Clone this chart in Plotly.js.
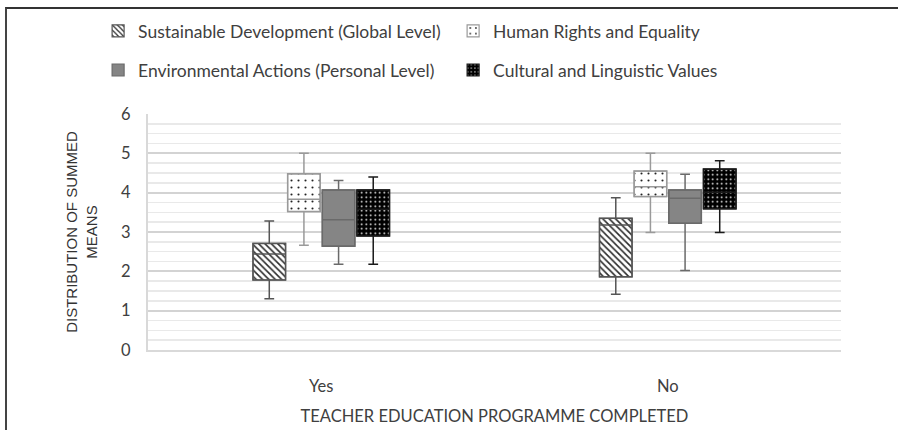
<!DOCTYPE html>
<html>
<head>
<meta charset="utf-8">
<script src="https://cdn.plot.ly/plotly-3.0.1.min.js"></script>
<style>
  html, body { margin: 0; padding: 0; background: #ffffff; }
  #frame { position: absolute; left: 5px; top: 7px; width: 893px; height: 423px;
           border-top: 2px solid #333; border-left: 2px solid #444; box-sizing: border-box; }
  #chart { position: absolute; left: 0; top: 0; width: 898px; height: 430px; }
</style>
</head>
<body>
<div id="chart"></div>
<div id="frame"></div>
<script>
// ---- Data ----
const categories = ['Yes', 'No'];
const seriesNames = [
  'Sustainable Development (Global Level)',
  'Human Rights and Equality',
  'Environmental Actions (Personal Level)',
  'Cultural and Linguistic Values'
];
// per series: [Yes, No]
const lowerWhisker = [[1.30, 1.42], [2.66, 2.99], [2.18, 2.02], [2.18, 2.99]];
const q1Values     = [[1.78, 1.86], [3.52, 3.90], [2.64, 3.22], [2.90, 3.59]];
const medianValues = [[2.44, 3.18], [3.83, 4.15], [3.31, 3.86], [3.58, 4.01]];
const q3Values     = [[2.71, 3.35], [4.48, 4.55], [4.07, 4.07], [4.07, 4.60]];
const upperWhisker = [[3.28, 3.87], [5.00, 5.00], [4.31, 4.47], [4.40, 4.81]];
const yTicks = [0, 1, 2, 3, 4, 5, 6];

// ---- Styles ----
const styles = [
  { bg: '#ffffff', pattern: { shape: '\\', fgcolor: '#2a2a2a', bgcolor: '#ffffff', size: 4.5, solidity: 0.35 }, line: '#555555' },
  { bg: '#ffffff', pattern: { shape: '.', fgcolor: '#222222', bgcolor: '#ffffff', size: 7, solidity: 0.07 }, line: '#9a9a9a' },
  { bg: '#858585', pattern: null, line: '#6a6a6a' },
  { bg: '#000000', pattern: { shape: '.', fgcolor: '#ffffff', bgcolor: '#000000', size: 4.5, solidity: 0.12 }, line: '#1a1a1a' }
];
const legendFor = ['legend', 'legend', 'legend2', 'legend2'];

const traces = [];
// patterned box bodies (bars from Q1 to Q3) -> also legend entries
seriesNames.forEach((name, i) => {
  const st = styles[i];
  const marker = { color: st.bg, line: { color: st.line, width: 1.2 } };
  if (st.pattern) marker.pattern = st.pattern;
  traces.push({
    type: 'bar', name: name, x: categories,
    base: q1Values[i],
    y: q3Values[i].map((v, k) => v - q1Values[i][k]),
    marker: marker, offsetgroup: String(i), legend: legendFor[i],
    hoverinfo: 'skip'
  });
});
// whiskers, medians and outlines
seriesNames.forEach((name, i) => {
  traces.push({
    type: 'box', name: name, x: categories,
    lowerfence: lowerWhisker[i], q1: q1Values[i], median: medianValues[i],
    q3: q3Values[i], upperfence: upperWhisker[i],
    fillcolor: 'rgba(0,0,0,0)', line: { color: styles[i].line, width: 1.5 },
    whiskerwidth: 0.3, offsetgroup: String(i), showlegend: false, boxpoints: false
  });
});

const font = 'Lato, "Open Sans", sans-serif';
const layout = {
  width: 898, height: 430,
  margin: { l: 148, r: 57, t: 114, b: 80 },
  paper_bgcolor: '#ffffff', plot_bgcolor: '#ffffff',
  barmode: 'group', boxmode: 'group',
  bargap: 0.6, bargroupgap: 0.06, boxgap: 0.6, boxgroupgap: 0.06,
  font: { family: font, size: 16, color: '#404040' },
  xaxis: {
    type: 'category', categoryorder: 'array', categoryarray: categories,
    showgrid: false, zeroline: false, showline: true, linecolor: '#d9d9d9', linewidth: 2,
    ticks: '', ticklabelstandoff: 20,
    tickfont: { family: font, size: 16.5, color: '#404040' },
    title: { text: 'TEACHER EDUCATION PROGRAMME COMPLETED', standoff: 16,
             font: { family: font, size: 16.5, color: '#404040' } }
  },
  yaxis: {
    range: [0, 6], tickvals: yTicks, ticktext: yTicks.map(String),
    showgrid: true, gridcolor: '#d3d3d3', gridwidth: 2,
    minor: { dtick: 0.25, showgrid: true, gridcolor: '#e9e9e9', gridwidth: 1.5 },
    zeroline: false, showline: true, linecolor: '#d9d9d9', linewidth: 2,
    ticks: '', ticklabelstandoff: 12,
    tickfont: { family: font, size: 16.5, color: '#404040' },
    title: { text: 'DISTRIBUTION OF SUMMED<br>MEANS', standoff: 20,
             font: { family: '"Liberation Sans", Arial, sans-serif', size: 15, color: '#333333' } }
  },
  legend: {
    orientation: 'h', x: -0.072, xanchor: 'left', y: 1.352, yanchor: 'middle',
    entrywidth: 310, font: { family: font, size: 17.5, color: '#404040' },
    bgcolor: 'rgba(0,0,0,0)'
  },
  legend2: {
    orientation: 'h', x: -0.072, xanchor: 'left', y: 1.186, yanchor: 'middle',
    entrywidth: 310, font: { family: font, size: 17.5, color: '#404040' },
    bgcolor: 'rgba(0,0,0,0)'
  },
  showlegend: true
};

Plotly.newPlot('chart', traces, layout, { displayModeBar: false, staticPlot: true });
</script>
</body>
</html>
